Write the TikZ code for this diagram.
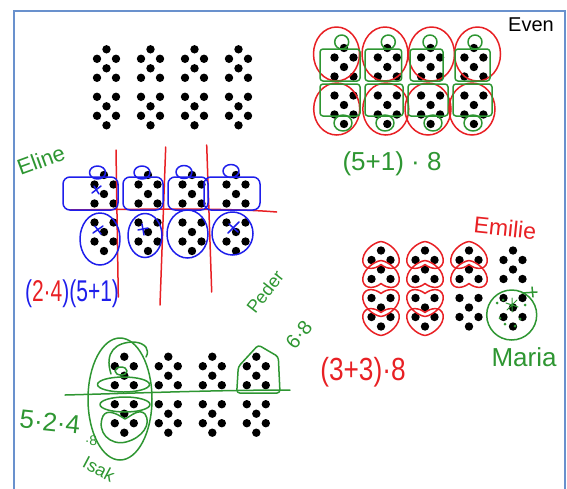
\documentclass[tikz,border=0pt]{standalone}
\usepackage{fontspec}
\setmainfont{Liberation Sans}

\definecolor{penred}{RGB}{232,32,36}
\definecolor{pengreen}{RGB}{46,150,50}
\definecolor{penblue}{RGB}{30,30,235}
\definecolor{frameblue}{RGB}{105,145,205}

\begin{document}
\begin{tikzpicture}[
  x=1pt, y=-1pt,
  pen/.style={line width=1.5pt, line cap=round, line join=round},
  redpen/.style={pen, draw=penred},
  greenpen/.style={pen, draw=pengreen},
  bluepen/.style={pen, draw=penblue},
  hand/.style={inner sep=0pt, font=\fontsize{#1}{#1}\selectfont},
  dotcol/.pic={
    \foreach \dx/\dy in {0/0, -9.5/9.5, 9.5/9.5, 0/19, -9.5/28.5, 9.5/28.5,
                         -9.5/47.5, 9.5/47.5, 0/57, -9.5/66.5, 9.5/66.5, 0/76}
      \fill (\dx,\dy) circle (4.2pt);
  },
  chevron/.pic={
    \draw[redpen] (0,-9) .. controls (-8,-8) and (-20,2) .. (-18,12)
      .. controls (-16,20) and (-6,19) .. (0,14)
      .. controls (6,19) and (16,20) .. (18,12)
      .. controls (20,2) and (8,-8) .. (0,-9) -- cycle;
  }
]
\useasboundingbox (0,0) rectangle (567,488);
\draw[frameblue, line width=2pt] (13.5,495) -- (13.5,10.7) -- (564.5,10.7) -- (564.5,495);

% the five rows of dot columns
\foreach \i in {0,...,3} {
  \pic at ({106.5+44*\i},49.3) {dotcol};
  \pic at ({344+43.3*\i},48) {dotcol};
  \pic at ({104+44*\i},175) {dotcol};
  \pic at ({381+44*\i},250.5) {dotcol};
  \pic at ({124.3+44*\i},356.7) {dotcol};
}

% Even
\foreach \ta/\ba/\sl/\sr/\bl/\br/\tc/\bc in {336.5/336.7/320/360/320/360/341.7/343,
    385/385.8/365/401.7/365/403/388.3/385, 431.5/428/410/443/408/448/430/433,
    477.5/472/455/490/453/492/475/473} {
  \draw[redpen] (\ta,54) ellipse [x radius=23pt, y radius=27pt];
  \draw[redpen] (\ba,109) ellipse [x radius=23pt, y radius=26pt];
  \draw[greenpen, rounded corners=3pt] (\sl,49) rectangle (\sr,81);
  \draw[greenpen, rounded corners=3pt] (\bl,84) rectangle (\br,116);
  \draw[greenpen] (\tc,42) ellipse [x radius=7pt, y radius=7pt];
  \draw[greenpen] (\bc,123) ellipse [x radius=9pt, y radius=8pt];
}
\node[hand=20] (even) at (531,25) {Even};
\node[hand=26, text=pengreen] (evenexpr) at (392,164) {(5+1) · 8};

% Eline
\draw[redpen] (116,150) -- (118.3,297);
\draw[redpen] (165.7,147) -- (160,305);
\draw[redpen] (206.7,145) -- (211.7,292);
\draw[redpen] (70,210) .. controls (150,209) and (230,208) .. (276.7,212);
\foreach \l/\r/\cx/\cy/\ox/\oy/\rx/\ry in {63/118/97.5/172.5/100/239/20/26,
    123/163/142/172.5/145/235.5/17/22, 168/208/184/172/187.5/234/20.5/24,
    204/260/231/171/232.5/233.5/20.5/21.5} {
  \draw[bluepen, rounded corners=7pt] (\l,177) rectangle (\r,210);
  \draw[bluepen] (\cx,\cy) ellipse [x radius=8pt, y radius=6.5pt];
  \draw[bluepen] (\ox,\oy) ellipse [x radius=\rx pt, y radius=\ry pt];
}
\draw[bluepen] (92,193) -- (101,186) (94,186) -- (99,194);
\draw[bluepen] (93,233) -- (103,226) (95,226) -- (101,234);
\draw[bluepen] (138,230) -- (148,228) (142,224) -- (144,235);
\draw[bluepen] (228,233) -- (239,222) (229,224) -- (238,232);
\node[hand=22, text=pengreen, rotate=20] (eline) at (41,160) {Eline};
\node[hand=30, xscale=0.7, transform shape] (elineexpr) at (72,294)
  {\textcolor{penblue}{(}\textcolor{penred}{2·4}\textcolor{penblue}{)(5+1)}};

% Emilie and Maria
\foreach \cx in {381,425} {
  \pic at (\cx,250.5) {chevron};
  \pic at (\cx,269.5) {chevron};
  \pic[yscale=-1] at (\cx,307.5) {chevron};
  \pic[yscale=-1] at (\cx,326.5) {chevron};
}
\pic at (469,250.5) {chevron};
\pic at (469,269.5) {chevron};
\node[greenpen, circle, minimum size=50pt, inner sep=0pt] (mariaring) at (511.7,315) {};
\draw[greenpen, line width=1pt] (506,303) -- (518,307) (512,298) -- (512,312) (507,310) -- (517,300);
\draw[greenpen] (522,293) -- (537,292) (532,287) -- (533,297);
\foreach \gx/\gy in {497/303, 503/300, 500/318, 520/319, 515/326, 505/324, 525/305}
  \fill[pengreen] (\gx,\gy) circle (1.5pt);
\node[hand=23, text=penred, rotate=-6] (emilie) at (505,228) {Emilie};
\node[hand=32, text=penred, xscale=0.82, transform shape] (emilieexpr) at (363,372) {(3+3)·8};
\node[hand=26, text=pengreen] (maria) at (524,357) {Maria};

% Isak and Peder
\draw[greenpen] (65,395) .. controls (140,393) and (220,390) .. (290,390);
\draw[greenpen] (120,399) ellipse [x radius=32pt, y radius=61pt];
\draw[greenpen] (111,374) .. controls (104,352) and (116,342) .. (134,342)
  .. controls (146,343) and (150,350) .. (146,357);
\draw[greenpen] (121,371) ellipse [x radius=6pt, y radius=4pt];
\draw[greenpen] (123.5,384.5) ellipse [x radius=26pt, y radius=7.5pt];
\draw[greenpen] (125,404.5) ellipse [x radius=25pt, y radius=7.5pt];
\draw[greenpen] (103,416) .. controls (96,432) and (110,446) .. (126,442)
  .. controls (142,438) and (152,424) .. (145,414)
  .. controls (139,408) and (131,416) .. (125,419)
  .. controls (116,413) and (107,409) .. (103,416);
\draw[greenpen, rounded corners=3pt] (236.7,393) -- (238.3,366.7) -- (258.3,345)
  -- (278.3,356.7) -- (280,393) -- cycle;
\node[hand=18, text=pengreen, rotate=52] (peder) at (265,292) {Peder};
\node[hand=20, text=pengreen, rotate=50] (pederexpr) at (299,335) {6·8};
\node[hand=26, text=pengreen, rotate=-6] (isakexpr) at (50,422) {5·2·4};
\node[hand=14, text=pengreen] (isakeight) at (91,441) {·8};
\node[hand=18, text=pengreen, rotate=-28] (isak) at (99,469) {Isak};
\end{tikzpicture}
\end{document}
